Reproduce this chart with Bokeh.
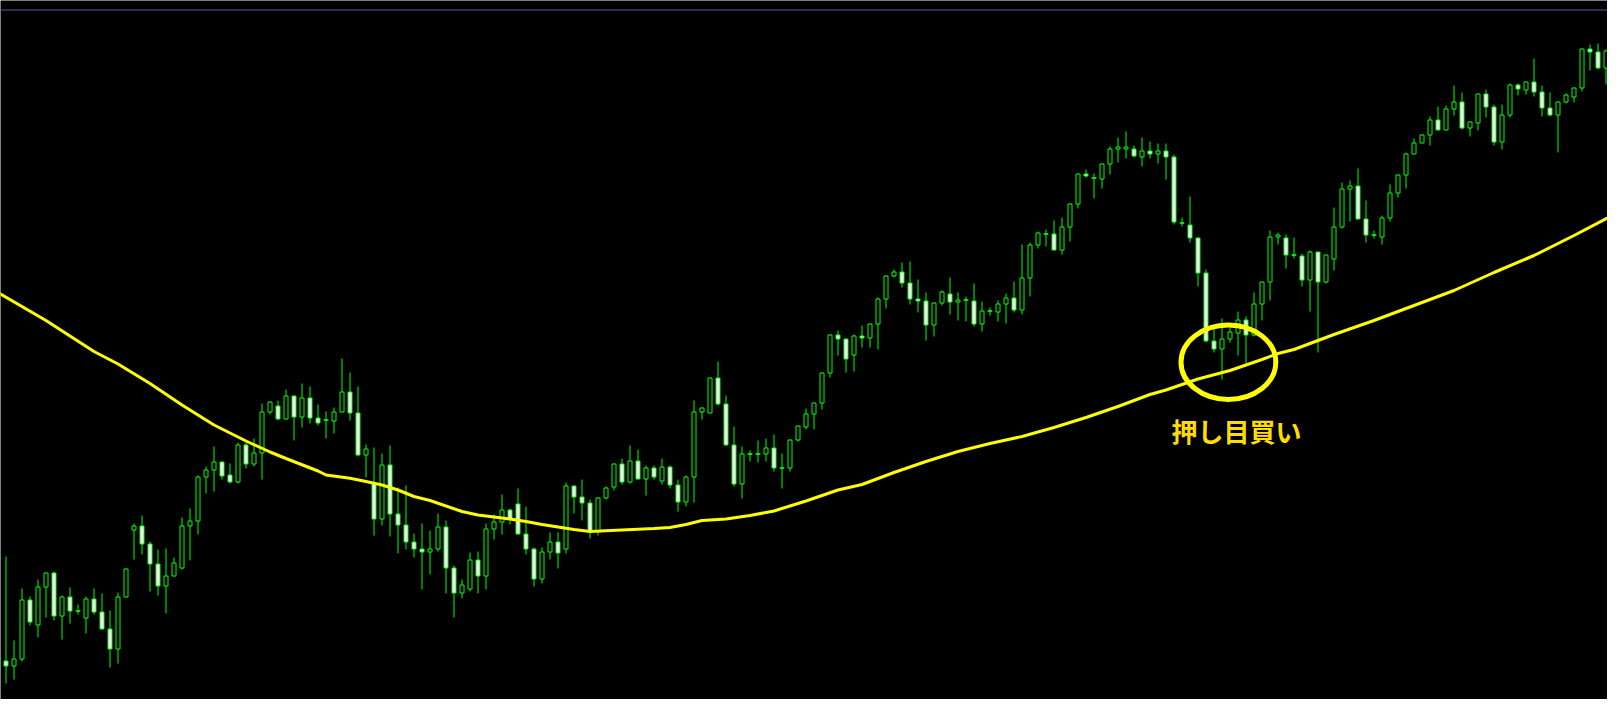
import numpy as np
from bokeh.plotting import figure
from bokeh.models import Range1d, Span, Label
from bokeh.embed import file_html
from bokeh.resources import INLINE

# Price levels, in screen-row units (larger value = lower price)
open_ = [662.3, 668.3, 673.3, 666.7, 607.3, 632.7, 594.7, 580.3, 623.7, 604.3,
         618.7, 625.7, 606, 619.3, 636.3, 656.7, 604.5, 537.3, 533.3, 551.3,
         571.3, 593.3, 583.3, 575.7, 533.3, 528.7, 484.3, 477.3, 469.3, 482.3,
         489.7, 452.3, 471.7, 460.5, 419.7, 413.3, 426.7, 403.3, 424.7, 405.3,
         425.3, 427.7, 428.7, 419.7, 399.3, 420.3, 462.7, 490, 526.7, 472.3,
         521.3, 532.3, 549.3, 556.3, 559.3, 556.7, 534.3, 575.3, 600.3, 596.3,
         567.3, 583.3, 536.7, 529.3, 517.3, 511.3, 541.3, 556.3, 586.3, 559.3,
         549.3, 556, 493.3, 504.3, 510.3, 538, 505.3, 494.7, 471.3, 489.7,
         468.3, 486.7, 475.3, 488.7, 474.3, 492.3, 509.7, 484.3, 419.3, 420.7,
         385.3, 411.3, 452.3, 491.7, 461.3, 461.7, 461.7, 455.3, 475.3, 475.7,
         447.3, 434.3, 421.7, 410.3, 380.3, 342.3, 346.3, 362.7, 343.3, 345.3,
         331.3, 306.3, 283.3, 279.3, 290.3, 306.3, 308.3, 332.3, 310.7, 301.3,
         309.3, 307.7, 308.3, 331.3, 318.3, 319.3, 311.3, 305.3, 317.3, 285.3,
         252.3, 241.7, 241.3, 257.3, 234.3, 211.3, 181.3, 185.7, 186.3, 171.3,
         156.3, 156.3, 156.3, 164.3, 158.3, 161.3, 158.3, 164.3, 230, 232.3,
         245.3, 280.3, 348.3, 356.3, 346.3, 340.3, 327.3, 342.3, 311.3, 289.3,
         244.3, 245.3, 262.7, 263.3, 287.3, 259.3, 289.3, 266.3, 234.3, 196.3,
         193.7, 226.3, 242.3, 244.3, 225.3, 200.3, 182.3, 161.3, 150.3, 142.3,
         127.3, 137.3, 116.3, 109.3, 135.3, 130.3, 101.3, 114.3, 149.3, 122.3,
         92.3, 97.3, 89.3, 99.3, 115.3, 122.3, 109.3, 104.3, 95.3, 56.3,
         59.3, 75.3, 58.3]

high = [641, 564, 648.3, 596, 604, 587, 580.3, 579, 603.3, 595,
        612.7, 604, 596, 601, 618, 600, 576, 531.3, 523, 549,
        557, 556, 565, 525, 516, 483.3, 474, 454, 469.3, 471,
        450, 450.7, 446.3, 411, 409.3, 408.3, 397, 403.3, 391, 394.3,
        412, 419, 415, 366, 380, 394, 452, 455.3, 461, 453,
        495.3, 493, 541, 531.3, 538, 521, 528, 573.3, 587, 560,
        559.3, 531, 522, 502, 516, 496, 514, 555, 555.3, 540,
        540, 490, 493.3, 487, 507, 505, 494.3, 471.3, 466, 453,
        457, 473.3, 473.3, 466, 473.3, 487, 483.3, 408, 415.3, 385,
        369, 403, 434, 454, 458, 448, 446, 442, 461, 447.3,
        433.3, 416, 410.3, 380.3, 342.3, 338.3, 346.3, 342.3, 333.3, 331.3,
        305.3, 283.3, 277.3, 270.3, 269.3, 287, 300.3, 310.3, 298.3, 285.3,
        300.3, 304.3, 291.3, 309.3, 315.3, 308.3, 301.3, 289.3, 252.3, 250.3,
        239.3, 237.3, 228, 225.3, 211.3, 181.3, 177, 181.3, 171.3, 154.3,
        145, 139, 153.3, 145, 149, 151, 151, 162.3, 225, 204.3,
        245.3, 277.3, 336.7, 326, 335.3, 319.3, 324.3, 300, 289.3, 238.3,
        240.3, 242.3, 245.3, 261.3, 258.3, 259.3, 262.3, 215.3, 190.3, 188.3,
        176.3, 208.3, 238.3, 223.3, 192.3, 182.3, 160.3, 146.3, 142.3, 124.3,
        114.3, 113.3, 93.3, 100.3, 129.3, 101.3, 97.3, 112, 112, 91.3,
        91.3, 89.3, 66.3, 93.3, 100.3, 109.3, 101.3, 95.3, 56.3, 52.3,
        51.3, 57.3, 52.3]

low = [670, 690.7, 686, 668.7, 632, 644.7, 624, 627.7, 646, 630,
       621, 640, 621.7, 636.7, 674, 670, 604.5, 566.7, 561, 598.7,
       602.7, 620.7, 583.3, 576.7, 567.7, 541.7, 500.7, 498.7, 486, 490.7,
       490.7, 475.7, 473.7, 486.7, 421.7, 427.7, 426.7, 447.7, 434.7, 430.7,
       432.7, 445, 440, 419.7, 427, 463.7, 484.7, 542, 532, 543.7,
       560, 556.7, 564.7, 596.7, 581.7, 558.3, 600.7, 624.7, 605.7, 598.7,
       600.7, 596.7, 546, 541.7, 531, 541.3, 561.7, 593.7, 590.7, 566.7,
       575, 560, 520, 527.7, 545, 542, 506.7, 497.3, 491.7, 490.7,
       486.7, 502.7, 486, 491.7, 495.7, 518.7, 513.7, 509.7, 426.7, 420.7,
       412.7, 452.7, 493.7, 505, 468, 469, 468, 478.7, 495.7, 478.7,
       448.7, 436.7, 436.7, 416.7, 384.7, 362.7, 379.7, 378.7, 354, 354.7,
       356.7, 315.7, 284.3, 294.3, 311.7, 319.7, 347.3, 343.3, 312.3, 321.3,
       327.7, 328.7, 333.3, 338.7, 322.7, 328.7, 330.7, 319.3, 321.7, 303.7,
       255.7, 253.7, 257.3, 261.7, 248.7, 215.7, 184.3, 205.7, 195.7, 181.7,
       169.7, 165.7, 164.7, 173.7, 165.7, 170.7, 186.7, 231.7, 233.7, 249.7,
       293.7, 349.3, 359.3, 386.7, 349.3, 362.3, 371.3, 343.3, 327.3, 307.3,
       251.3, 275.3, 265.3, 293.3, 318.3, 359.3, 290.3, 277.3, 235.3, 228.7,
       226.3, 249.3, 245.3, 251.3, 228.3, 204.3, 195.3, 161.3, 150.3, 152.3,
       137.3, 137.3, 122.3, 136.3, 143.3, 137.3, 124.3, 152.7, 156.7, 124.7,
       102.3, 101.3, 103.3, 123.3, 123.3, 159.3, 110.3, 109.3, 98.3, 77.3,
       76.3, 91.3, 58.3]

close = [669, 673.3, 666.3, 607.3, 629.7, 594.3, 580.3, 623.7, 604.3, 618.7,
         618.7, 606, 619.7, 636.7, 656.7, 604.3, 576.3, 533.3, 551.7, 571.7,
         593.3, 583.3, 570.3, 533.3, 528.3, 484.3, 477.3, 469.3, 483.3, 489.3,
         452, 471.7, 460.3, 419.3, 409.3, 426.7, 403.3, 424.7, 405.3, 425.7,
         430.7, 427.7, 419.3, 399.3, 420.7, 462.7, 456.3, 526.7, 472.3, 521.7,
         532.3, 549.7, 556.3, 559, 556.3, 534.3, 575.3, 600.3, 592.3, 567.3,
         583.3, 536.3, 529.3, 517.3, 526.3, 541.3, 556.3, 586.3, 559.3, 549.3,
         560, 493.3, 504.3, 510.3, 538, 505.3, 495.3, 471.3, 489.7, 468.3,
         486.7, 475.3, 484.7, 474.3, 492.3, 509.7, 484.3, 419.3, 415.3, 385.3,
         411.7, 452.7, 491.7, 461.3, 461.3, 461.7, 455.3, 475.3, 475.3, 447.3,
         433.3, 421.3, 410.3, 380.3, 342.3, 346.3, 366.7, 343.3, 345.3, 331.3,
         306.3, 283.3, 279.3, 290.3, 306.3, 308.3, 332.3, 310.3, 299.3, 309.3,
         307.3, 307.7, 331.3, 318.3, 318.3, 311.3, 305.3, 317.3, 285.3, 252.3,
         240.3, 241.7, 257.3, 234.3, 211.3, 181.3, 183.3, 185.7, 171.3, 156.3,
         154.3, 154.3, 163.7, 158.3, 161.3, 158.3, 164.3, 229.7, 230, 245.3,
         280.3, 348.3, 356.3, 346.3, 339.3, 327.3, 342.3, 311.3, 289.3, 244.3,
         242.3, 262.3, 262.7, 287.3, 259.3, 289.3, 262.3, 234.3, 196.3, 193.7,
         226.3, 242.3, 242.3, 225.3, 200.3, 182.3, 161.3, 150.3, 142.3, 127.3,
         137.3, 116.3, 109.3, 135.3, 129.3, 101.3, 114.3, 149.3, 122.3, 92.3,
         96.3, 89.3, 99.3, 115.3, 122.3, 109.3, 102.3, 95.3, 56.3, 59.3,
         75.3, 58.3, 52.3]

# Moving average (yellow line), read at selected bar indices
ma_idx = [-1, 6, 12, 15, 19, 23, 27, 31, 34, 36,
          40, 41, 44, 46, 48, 50, 52, 54, 58, 60,
          62, 64, 66, 68, 70, 72, 74, 78, 82, 84,
          86, 88, 91, 94, 97, 101, 105, 108, 112, 116,
          120, 124, 128, 132, 136, 140, 144, 146, 150, 154,
          158, 160, 162, 164, 167, 172, 177, 182, 187, 192,
          197, 203]
ma_val = [295.5, 328, 359, 371.5, 391, 412.5, 432.5, 448.5, 459.5, 466,
          478.5, 482.5, 485.7, 489, 492.5, 497.5, 504, 508, 519, 522.5,
          524.5, 526.5, 529, 532, 534.5, 537, 539, 537.5, 536, 535,
          532, 528, 526.5, 523, 518.5, 508.5, 497.5, 492, 480, 469,
          459, 451, 444, 435, 425, 414, 402, 397.5, 386.5, 378,
          367, 361, 357, 351, 342, 328, 313, 298, 280, 263,
          243, 218]

annotation = "押し目買い"

GREEN = "#00ff00"
YELLOW = "#ffff00"

o = np.array(open_, dtype=float)
h = np.array(high, dtype=float)
l = np.array(low, dtype=float)
c = np.array(close, dtype=float)
idx = np.arange(len(o))

top = np.floor(np.minimum(o, c)) + 0.5
bot = np.floor(np.maximum(o, c)) + 0.5
doji = np.abs(o - c) < 1.5
bot[doji] = top[doji]
bear = (c - o) >= 1.5
fills = np.where(bear, "#ffffff", "#000000")

p = figure(width=1607, height=699,
           x_range=Range1d(0.3125, 201.1875), y_range=Range1d(707, 8),
           output_backend="svg", toolbar_location=None,
           x_axis_location=None, y_axis_location=None,
           background_fill_color="#000000", border_fill_color="#000000",
           outline_line_color=None, min_border=0)
p.grid.visible = False

p.add_layout(Span(location=17.5, dimension="width", line_color="#5b5b9e", line_width=1))

# wicks
p.segment(x0=idx, y0=np.floor(h), x1=idx, y1=np.floor(l) + 1, line_color=GREEN, line_width=1)
# bodies
p.quad(left=idx - 0.25, right=idx + 0.25, top=top, bottom=bot,
       fill_color=fills, line_color=GREEN, line_width=1)
# doji bars
di = idx[doji]
p.segment(x0=di - 0.25, x1=di + 0.25, y0=top[doji], y1=top[doji],
          line_color=GREEN, line_width=1, line_cap="square")

# moving average
p.line(ma_idx, ma_val, line_color=YELLOW, line_width=3)

# annotation circle + text
p.ellipse(x=[153.8], y=[369.7], width=11.85, height=74.5,
          fill_color=None, line_color=YELLOW, line_width=5)
p.add_layout(Label(x=154.8, y=438, text=annotation, text_color="#ffdd00",
                   text_font="Noto Sans CJK JP", text_font_style="bold",
                   text_font_size="26px", text_align="center", text_baseline="middle"))

open("out.html", "w").write(file_html(p, INLINE))
